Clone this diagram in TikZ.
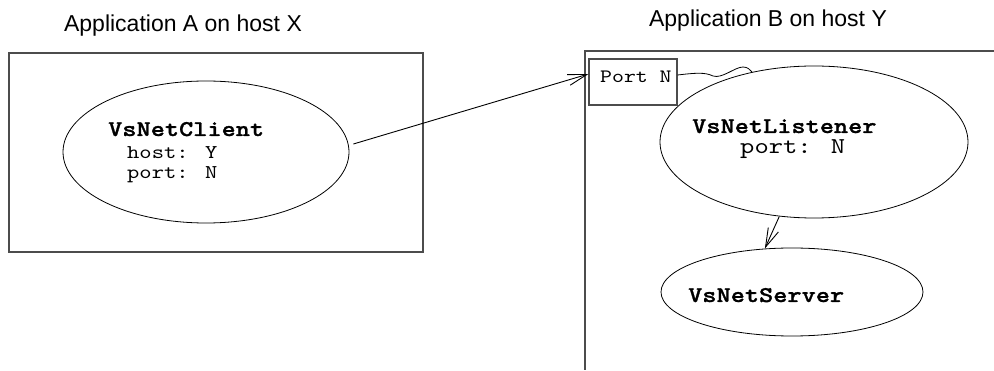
\documentclass[tikz,border=0pt]{standalone}
\usepackage{fontspec}
\usetikzlibrary{shapes.geometric,arrows.meta}
\newfontfamily\titlefont{Liberation Sans}
\newfontfamily\codefont{lmmono10-regular}[Extension=.otf,BoldFont=lmmonolt10-bold,BoldFeatures={FakeBold=1.2},FakeStretch=1.2]
\tikzset{
  title/.style={font=\titlefont\fontsize{23}{26}\selectfont, inner sep=0pt, anchor=base},
  code/.style={font=\codefont\fontsize{#1}{20}\selectfont, inner sep=0pt, anchor=base west},
  frame/.style={draw=black!70, line width=1.1pt},
  obj/.style={draw=black, ellipse, line width=0.8pt, inner sep=0pt},
  flow/.style={draw=black, line width=0.9pt, -{Straight Barb[length=19pt,width=11pt,line width=0.9pt]}},
}
\begin{document}
\begin{tikzpicture}[x=1pt,y=-1pt]
\useasboundingbox (0,0) rectangle (994,371);

% headings
\node[title] (titleA) at (183,31.5) {Application A on host X};
\node[title] (titleB) at (768,27) {Application B on host Y};

% application A
\node[frame, rectangle, minimum width=414pt, minimum height=199pt, inner sep=0pt] (hostX) at (216,152.5) {};
\node[obj, minimum width=286pt, minimum height=142pt] (client) at (206,152) {};
\node[code=22.5] (clientname) at (108,136) {\bfseries VsNetClient};
\node[code=19.5] (clienthost) at (127,159) {host: Y};
\node[code=19.5] (clientport) at (127,179) {port: N};

% application B
\draw[frame] (585,370) -- (585,51) -- (994,51);
\node[frame, rectangle, minimum width=88pt, minimum height=46pt, inner sep=0pt] (port) at (633,82) {};
\node[code=18.9] (portlabel) at (600,83) {Port N};

\node[obj, minimum width=308pt, minimum height=152pt] (listener) at (814,142) {};
\node[code=22.5] (listenername) at (692,133) {\bfseries VsNetListener};
\node[code=22.7] (listenerport) at (740,154) {port: N};

\node[obj, minimum width=262pt, minimum height=88pt] (server) at (792,292) {};
\node[code=22.5] (servername) at (688,302) {\bfseries VsNetServer};

% connections
\draw[flow] ([xshift=4pt,yshift=8pt]client.east) -- ([yshift=8pt]port.west);
\draw[line width=0.8pt] ([yshift=7pt]port.east) .. controls (695,73) and (705,72) .. (713,76)
  .. controls (722,79) and (735,67) .. (743,67) .. controls (748,67) and (750,70) .. (752,72);
\draw[flow] (listener.245) -- (server.122);
\end{tikzpicture}
\end{document}
